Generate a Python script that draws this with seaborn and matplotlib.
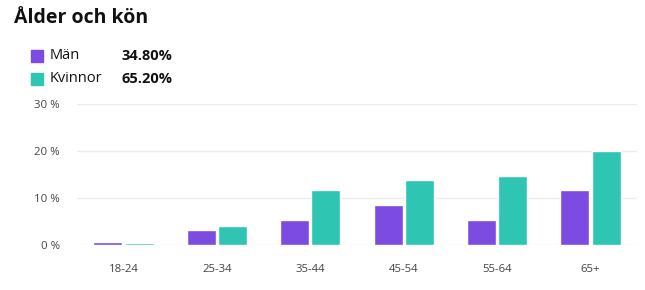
import matplotlib
matplotlib.use("Agg")
import matplotlib.pyplot as plt
import seaborn as sns
import pandas as pd
from matplotlib.patches import Rectangle

title = "Ålder och kön"
categories = ["18-24", "25-34", "35-44", "45-54", "55-64", "65+"]
series_names = ["Män", "Kvinnor"]
man_values = [0.5, 3.1, 5.3, 8.5, 5.3, 11.8]
kvinnor_values = [0.4, 4.0, 11.8, 13.8, 14.7, 20.0]
legend_pcts = ["34.80%", "65.20%"]
y_ticks = [0, 10, 20, 30]
y_tick_labels = ["0 %", "10 %", "20 %", "30 %"]

colors = ["#7B4BE2", "#2EC6B2"]

sns.set_theme(style="white")
plt.rcParams["font.family"] = ["Open Sans", "DejaVu Sans"]

df = pd.DataFrame({
    "Ålder": categories * 2,
    "Kön": [series_names[0]] * len(categories) + [series_names[1]] * len(categories),
    "Andel": man_values + kvinnor_values,
})

fig = plt.figure(figsize=(6.45, 2.9), dpi=100)
ax = fig.add_axes([0.119, 0.156, 0.869, 0.484])

sns.barplot(data=df, x="Ålder", y="Andel", hue="Kön", order=categories,
            hue_order=series_names, palette=colors, width=0.67, gap=0.07,
            saturation=1, legend=False, ax=ax, errorbar=None)

ax.set_ylim(0, 30)
ax.set_yticks(y_ticks)
ax.set_yticklabels(y_tick_labels)
ax.set_xlim(-0.5, len(categories) - 0.5)
ax.set_xlabel("")
ax.set_ylabel("")
for s in ax.spines.values():
    s.set_visible(False)
ax.grid(axis="y", color="#ECECEC", linewidth=1)
ax.set_axisbelow(True)
ax.tick_params(axis="both", length=0, labelsize=8.2, colors="#444444")
ax.tick_params(axis="y", pad=12)
ax.tick_params(axis="x", pad=14)

fig.text(14 / 645, 1 - 18 / 290, title, fontsize=14, fontweight="bold",
         color="#111111", va="center", ha="left")

for i, (name, pct) in enumerate(zip(series_names, legend_pcts)):
    yc = 1 - (56 + i * 23) / 290
    fig.patches.append(Rectangle((31 / 645, yc - 6 / 290), 12 / 645, 12 / 290,
                                 transform=fig.transFigure, color=colors[i]))
    fig.text(50 / 645, yc, name, fontsize=10.5, color="#111111", va="center", ha="left")
    fig.text(122 / 645, yc, pct, fontsize=10.5, fontweight="bold", color="#111111",
             va="center", ha="left")

fig.savefig("out.png", dpi=100)
